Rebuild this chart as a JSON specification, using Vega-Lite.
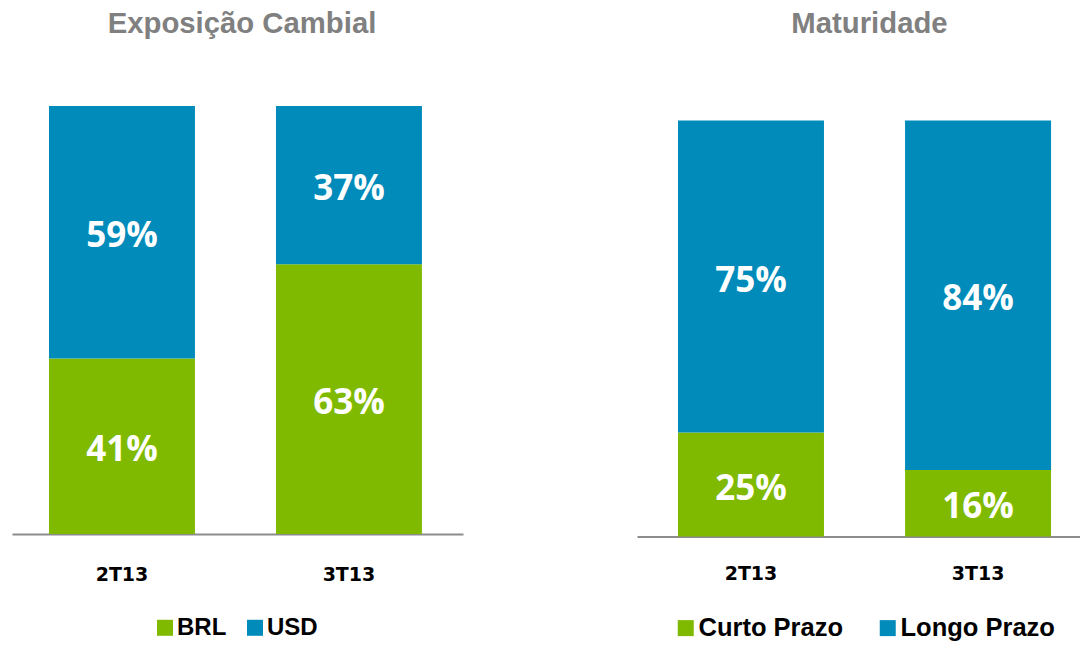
{
  "$schema": "https://vega.github.io/schema/vega-lite/v6.json",
  "background": "white",
  "padding": {"left": 12, "top": 10, "right": 0, "bottom": 0},
  "spacing": 174,
  "datasets": {
    "cambial": [
      {"periodo": "2T13", "categoria": "BRL", "valor": 0.41},
      {"periodo": "2T13", "categoria": "USD", "valor": 0.59},
      {"periodo": "3T13", "categoria": "BRL", "valor": 0.63},
      {"periodo": "3T13", "categoria": "USD", "valor": 0.37}
    ],
    "maturidade": [
      {"periodo": "2T13", "categoria": "Curto Prazo", "valor": 0.25},
      {"periodo": "2T13", "categoria": "Longo Prazo", "valor": 0.75},
      {"periodo": "3T13", "categoria": "Curto Prazo", "valor": 0.16},
      {"periodo": "3T13", "categoria": "Longo Prazo", "valor": 0.84}
    ]
  },
  "resolve": {"scale": {"color": "independent", "y": "independent", "x": "independent"}, "legend": {"color": "independent"}},
  "hconcat": [
    {
      "width": 451,
      "height": 428,
      "title": {"text": "Exposição Cambial", "offset": 66.5, "dx": 4.5, "fontSize": 29.3},
      "data": {"name": "cambial"},
      "transform": [
        {"stack": "valor", "groupby": ["periodo"], "sort": [{"field": "categoria", "order": "ascending"}], "as": ["v0", "v1"]},
        {"calculate": "(datum.v0 + datum.v1) / 2", "as": "vmid"}
      ],
      "encoding": {
        "x": {
          "field": "periodo", "type": "nominal", "title": null,
          "scale": {"paddingInner": 0.357, "paddingOuter": 0.172, "align": 0.474},
          "axis": {"labelPadding": 31}
        }
      },
      "layer": [
        {
          "mark": {"type": "bar"},
          "encoding": {
            "y": {"field": "v0", "type": "quantitative", "scale": {"domain": [0, 1], "nice": false}, "axis": null},
            "y2": {"field": "v1"},
            "color": {
              "field": "categoria", "type": "nominal",
              "scale": {"domain": ["BRL", "USD"], "range": ["#7FBA00", "#008BBB"]},
              "legend": {"orient": "none", "direction": "horizontal", "legendX": 141, "legendY": 509.8, "columnPadding": 16}
            }
          }
        },
        {
          "mark": {"type": "text", "font": "Open Sans", "fontWeight": "bold", "fontSize": 35, "color": "white", "baseline": "middle", "align": "center", "dy": 4},
          "encoding": {
            "y": {"field": "vmid", "type": "quantitative", "scale": {"domain": [0, 1], "nice": false}},
            "text": {"field": "valor", "type": "quantitative", "format": ".0%"}
          }
        }
      ]
    },
    {
      "width": 443,
      "height": 430.6,
      "title": {"text": "Maturidade", "offset": 66.5, "dx": 11, "fontSize": 29.3},
      "data": {"name": "maturidade"},
      "transform": [
        {"stack": "valor", "groupby": ["periodo"], "sort": [{"field": "categoria", "order": "ascending"}], "as": ["v0", "v1"]},
        {"calculate": "(datum.v0 + datum.v1) / 2", "as": "vmid"}
      ],
      "encoding": {
        "x": {
          "field": "periodo", "type": "nominal", "title": null,
          "scale": {"paddingInner": 0.357, "paddingOuter": 0.154, "align": 0.586},
          "axis": {"labelPadding": 27.5}
        }
      },
      "layer": [
        {
          "mark": {"type": "bar"},
          "encoding": {
            "y": {"field": "v0", "type": "quantitative", "scale": {"domain": [0, 1.0351], "nice": false}, "axis": null},
            "y2": {"field": "v1"},
            "color": {
              "field": "categoria", "type": "nominal",
              "scale": {"domain": ["Curto Prazo", "Longo Prazo"], "range": ["#7FBA00", "#008BBB"]},
              "legend": {"orient": "none", "direction": "horizontal", "legendX": 36, "legendY": 509, "columnPadding": 31, "labelFontSize": 25.5}
            }
          }
        },
        {
          "mark": {"type": "text", "font": "Open Sans", "fontWeight": "bold", "fontSize": 35, "color": "white", "baseline": "middle", "align": "center", "dy": 4},
          "encoding": {
            "y": {"field": "vmid", "type": "quantitative", "scale": {"domain": [0, 1.0351], "nice": false}},
            "text": {"field": "valor", "type": "quantitative", "format": ".0%"}
          }
        }
      ]
    }
  ],
  "config": {
    "view": {"stroke": null},
    "title": {"font": "Liberation Sans", "fontSize": 29.3, "fontWeight": "bold", "color": "#808080", "anchor": "middle", "frame": "group"},
    "axis": {
      "domainColor": "#8C8C8C", "domainWidth": 2, "ticks": false, "grid": false,
      "labelAngle": 0, "labelFont": "DejaVu Sans", "labelFontWeight": "bold", "labelFontSize": 19, "labelColor": "black"
    },
    "legend": {
      "title": null, "symbolType": "square", "symbolSize": 256, "symbolStrokeWidth": 0, "symbolOpacity": 1,
      "labelFont": "Liberation Sans", "labelFontWeight": "bold", "labelFontSize": 24, "labelColor": "black",
      "labelOffset": 0, "padding": 0, "labelLimit": 300
    }
  }
}
